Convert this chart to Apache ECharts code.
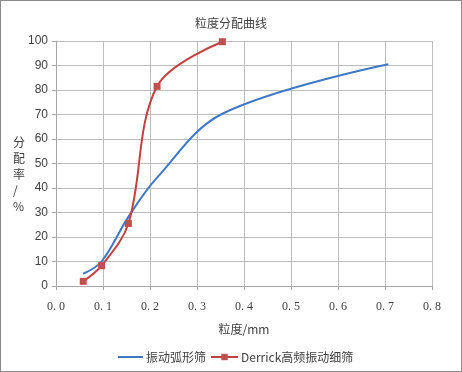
<!DOCTYPE html>
<html><head><meta charset="utf-8">
<script src="https://cdn.jsdelivr.net/npm/echarts@6/dist/echarts.min.js"></script>
<style>html,body{margin:0;padding:0;background:#fff}#c{width:462px;height:372px;box-sizing:border-box;border:1px solid #8a8a8a}</style>
</head><body><div id="c"></div>
<script>
var title = '粒度分配曲线';
var yName = '分\n配\n率\n/\n%';
var xName = '粒度/mm';
var seriesNames = ['振动弧形筛', 'Derrick高频振动细筛'];
var blueX = [0.058, 0.097, 0.154, 0.214, 0.354, 0.707];
var blueY = [5.0, 10.0, 28.2, 44.0, 70.3, 90.5];
var redX = [0.058, 0.097, 0.154, 0.215, 0.354];
var redY = [1.9, 8.3, 25.5, 81.5, 99.7];

function pairs(xs, ys){ return xs.map(function(x,i){return [x, ys[i]];}); }

var chart = echarts.init(document.getElementById('c'));
var gridColor = '#bcbcbc';
var legendText = { fontSize: 12, color: '#404040', fontFamily: 'Noto Sans CJK SC', padding: [0,0,0,-2] };
chart.setOption({
  animation: false,
  title: { text: title, left: 'center', top: 11, textStyle: { fontSize: 12, fontWeight: 'normal', color: '#404040', fontFamily: 'Noto Sans CJK SC' } },
  graphic: [{ type: 'text', left: 12, top: 133, style: { text: yName, fontSize: 12, lineHeight: 16, fill: '#404040', fontFamily: 'Noto Sans CJK SC', align: 'center' } }],
  grid: { left: 55, right: 29, top: 40, bottom: 85 },
  xAxis: {
    type: 'value', min: 0, max: 0.8, interval: 0.1,
    name: xName, nameLocation: 'middle', nameGap: 37,
    nameTextStyle: { fontSize: 12, color: '#404040', fontFamily: 'Noto Sans CJK SC' },
    axisLine: { show: true, lineStyle: { color: '#a6a6a6' } },
    axisTick: { show: true, length: 4, lineStyle: { color: '#a6a6a6' } },
    splitLine: { show: true, lineStyle: { color: gridColor } },
    axisLabel: { margin: 15, fontSize: 12, color: '#404040', fontFamily: 'Liberation Serif',
      formatter: function(v){ return v.toFixed(1).replace('.', '. '); } }
  },
  yAxis: {
    type: 'value', min: 0, max: 100, interval: 10,
    axisLine: { show: true, lineStyle: { color: '#a6a6a6' } },
    axisTick: { show: true, length: 4, lineStyle: { color: '#a6a6a6' } },
    splitLine: { show: true, lineStyle: { color: gridColor } },
    axisLabel: { margin: 8, fontSize: 12, color: '#404040', fontFamily: 'Liberation Sans' }
  },
  legend: [
    { top: 345, left: 112, itemWidth: 25, itemHeight: 2, icon: 'rect', textStyle: legendText, data: [seriesNames[0]] },
    { top: 345, left: 204, itemWidth: 27, itemHeight: 8, textStyle: legendText, data: [seriesNames[1]] }
  ],
  series: [
    { name: seriesNames[0], type: 'line', smooth: 0.35, showSymbol: false, symbol: 'none',
      lineStyle: { color: '#3f78c4', width: 2 }, itemStyle: { color: '#3f78c4' },
      data: pairs(blueX, blueY) },
    { name: seriesNames[1], type: 'line', smooth: 0.35, symbol: 'rect', symbolSize: 7,
      lineStyle: { color: '#c0413f', width: 2 }, itemStyle: { color: '#c0504d' },
      data: pairs(redX, redY) }
  ]
});
</script></body></html>
